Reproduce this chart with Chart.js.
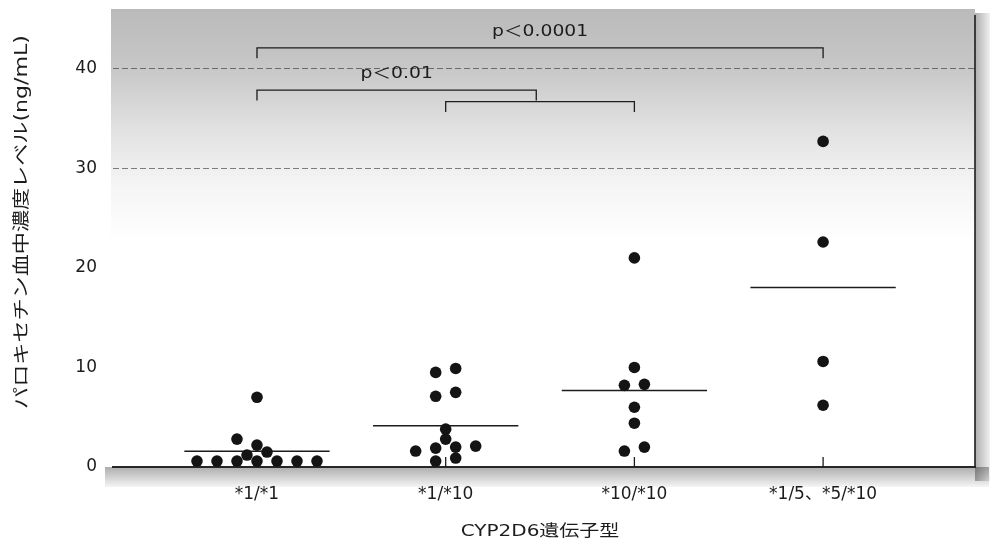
<!DOCTYPE html>
<html lang="ja">
<head>
<meta charset="UTF-8">
<title>CYP2D6遺伝子型とパロキセチン血中濃度</title>
<script src="https://cdn.jsdelivr.net/npm/chart.js@4.4.1/dist/chart.umd.min.js"></script>
<style>
    html, body {
        margin: 0;
        padding: 0;
        background: #ffffff;
    }
    .chart-box {
        position: relative;
        width: 997px;
        height: 545px;
    }
</style>
</head>
<body>
<div class="chart-box"><canvas id="plasmaChart" width="997" height="545"></canvas></div>

<script>
// genotype groups on the x axis
const genotypes = ['*1/*1', '*1/*10', '*10/*10', '*1/5、*5/*10'];

// plasma paroxetine level per patient (ng/mL)
const levels_1_1 = [0.6, 0.6, 0.6, 0.6, 0.6, 0.6, 0.6, 1.2, 1.5, 2.2, 2.8, 7.0];
const levels_1_10 = [0.6, 0.9, 1.6, 1.9, 2.0, 2.1, 2.8, 3.8, 7.1, 7.5, 9.5, 9.9];
const levels_10_10 = [1.6, 2.0, 4.4, 6.0, 8.2, 8.3, 10.0, 21.0];
const levels_5_10 = [6.2, 10.6, 22.6, 32.7];
const groupLevels = [levels_1_1, levels_1_10, levels_10_10, levels_5_10];

const yTicks = [0, 10, 20, 30, 40];

// significance brackets: group ends, bar height, label
const bracketFrom = [0, 0, 1];
const bracketTo = [3, 1.48, 2];
const bracketHeight = [42.1, 37.85, 36.7];
const bracketText = ['p＜0.0001', 'p＜0.01', ''];

const INK = '#1c1c1c';
const LATIN_CJK = "'DejaVu Sans', 'Noto Sans CJK JP', sans-serif";

const DODGE = 0.106;     // step between side-by-side dots, in x units
const ROW_TOL = 0.55;    // values this close sit in one row
const CLASH = 0.85;      // min vertical gap for dots in the same column
const MEAN_HALF = 0.385; // half width of the mean bar
const LEG = 1.05;        // bracket leg length

// simple dot-plot layout: near-equal values spread sideways, centred on the group
function dotPlot(values, center) {
    const sorted = [...values].sort((a, b) => a - b);
    const placed = [];
    let i = 0;
    while (i < sorted.length) {
        const row = [sorted[i]];
        let j = i + 1;
        while (j < sorted.length && sorted[j] - sorted[i] <= ROW_TOL) row.push(sorted[j++]);
        const slots = row.map((v, k) => k - (row.length - 1) / 2);
        const clashes = s => row.some((v, k) => placed.some(p =>
            Math.abs(p.slot - (slots[k] + s)) < 0.4 && Math.abs(p.y - v) < CLASH));
        let shift = 0;
        for (const s of [0, -1, 1, -2, 2]) {
            if (!clashes(s)) { shift = s; break; }
        }
        row.forEach((v, k) => placed.push({ slot: slots[k] + shift, y: v }));
        i = j;
    }
    return placed.map(p => ({ x: center + p.slot * DODGE, y: p.y }));
}

const groupMeans = groupLevels.map(v => v.reduce((s, x) => s + x, 0) / v.length);

const dotSets = groupLevels.map((vals, g) => ({
    label: genotypes[g],
    data: dotPlot(vals, g),
    pointRadius: 5.8,
    pointHoverRadius: 5.8,
    backgroundColor: '#141414',
    borderWidth: 0,
    order: 0
}));

const meanSets = groupMeans.map((m, g) => ({
    label: genotypes[g] + ' mean',
    data: [{ x: g - MEAN_HALF, y: m }, { x: g + MEAN_HALF, y: m }],
    showLine: true,
    pointRadius: 0,
    borderColor: INK,
    borderWidth: 1.5,
    order: 1
}));

const bracketSets = bracketFrom.map((a, k) => {
    const b = bracketTo[k], h = bracketHeight[k];
    return {
        label: 'bracket ' + k,
        data: [{ x: a, y: h - LEG }, { x: a, y: h }, { x: b, y: h }, { x: b, y: h - LEG }],
        showLine: true,
        pointRadius: 0,
        borderColor: INK,
        borderWidth: 1.3,
        borderJoinStyle: 'miter',
        order: 1
    };
});

// text drawn wider than the font's natural shape
function wideText(ctx, text, x, y, font, sx, vertical) {
    ctx.save();
    ctx.translate(x, y);
    if (vertical) ctx.rotate(-Math.PI / 2);
    ctx.scale(sx, 1);
    ctx.font = font;
    ctx.fillStyle = INK;
    ctx.textAlign = 'center';
    ctx.textBaseline = 'middle';
    ctx.fillText(text, 0, 0);
    ctx.restore();
}

// grey screen tone: fading band at the top, strips along the bottom and right
const toneBackground = {
    id: 'toneBackground',
    beforeDraw(chart) {
        const { ctx, chartArea: a } = chart;
        ctx.save();
        const top = ctx.createLinearGradient(0, a.top, 0, a.top + 235);
        top.addColorStop(0, 'rgba(0,0,0,0.27)');
        top.addColorStop(0.25, 'rgba(0,0,0,0.22)');
        top.addColorStop(0.5, 'rgba(0,0,0,0.12)');
        top.addColorStop(0.75, 'rgba(0,0,0,0.04)');
        top.addColorStop(1, 'rgba(0,0,0,0)');
        ctx.fillStyle = top;
        ctx.fillRect(a.left - 2, a.top, a.right - a.left + 2, 235);

        const bottom = ctx.createLinearGradient(0, a.bottom, 0, a.bottom + 20);
        bottom.addColorStop(0, 'rgba(0,0,0,0.32)');
        bottom.addColorStop(1, 'rgba(0,0,0,0.04)');
        ctx.fillStyle = bottom;
        ctx.fillRect(a.left - 8, a.bottom, a.right - a.left + 22, 20);

        const side = ctx.createLinearGradient(a.right, 0, a.right + 15, 0);
        side.addColorStop(0, 'rgba(0,0,0,0.32)');
        side.addColorStop(1, 'rgba(0,0,0,0.06)');
        ctx.fillStyle = side;
        ctx.fillRect(a.right, a.top + 4, 15, a.bottom - a.top + 10);
        ctx.restore();
    }
};

// inward category ticks and the right frame line
const frameMarks = {
    id: 'frameMarks',
    beforeDatasetsDraw(chart) {
        const { ctx, chartArea: a, scales: { x, y } } = chart;
        const y0 = y.getPixelForValue(0);
        ctx.save();
        ctx.strokeStyle = INK;
        ctx.lineWidth = 1.3;
        genotypes.forEach((g, i) => {
            const px = x.getPixelForValue(i);
            ctx.beginPath();
            ctx.moveTo(px, y0);
            ctx.lineTo(px, y0 - 10);
            ctx.stroke();
        });
        ctx.lineWidth = 1.6;
        ctx.beginPath();
        ctx.moveTo(a.right, a.top + 6);
        ctx.lineTo(a.right, a.bottom);
        ctx.stroke();
        ctx.restore();
    }
};

// p-value labels and the two axis titles
const labelsLayer = {
    id: 'labelsLayer',
    afterDraw(chart) {
        const { ctx, chartArea: a, scales: { x, y } } = chart;
        bracketText.forEach((t, k) => {
            if (!t) return;
            const cx = x.getPixelForValue((bracketFrom[k] + bracketTo[k]) / 2);
            const cy = y.getPixelForValue(bracketHeight[k] + 1.6);
            wideText(ctx, t, cx, cy, '15px ' + LATIN_CJK, 1.25, false);
        });
        wideText(ctx, 'パロキセチン血中濃度レベル(ng/mL)', 23, a.top + (a.bottom - a.top) * 0.465,
            '17px ' + LATIN_CJK, 1.3, true);
        wideText(ctx, 'CYP2D6遺伝子型', (a.left + a.right) / 2 - 4, 532,
            '16px ' + LATIN_CJK, 1.25, false);
    }
};

// fixed axis boxes, no extra room reserved for edge labels
function fixBox(w, h) {
    return scale => {
        if (w) scale.width = w;
        if (h) scale.height = h;
        scale.paddingTop = 0;
        scale.paddingBottom = 0;
        scale.paddingLeft = 0;
        scale.paddingRight = 0;
    };
}

new Chart(document.getElementById('plasmaChart'), {
    type: 'scatter',
    data: { datasets: [...dotSets, ...meanSets, ...bracketSets] },
    options: {
        responsive: false,
        animation: false,
        layout: { padding: { left: 73, right: 22, top: 9, bottom: 18 } },
        plugins: {
            legend: { display: false },
            tooltip: { enabled: false }
        },
        scales: {
            x: {
                type: 'linear',
                min: -0.763,
                max: 3.805,
                afterBuildTicks: scale => { scale.ticks = genotypes.map((g, i) => ({ value: i })); },
                afterFit: fixBox(0, 60),
                grid: { display: false, drawTicks: false },
                border: { display: true, color: '#262626', width: 2 },
                ticks: {
                    padding: 17,
                    color: INK,
                    font: { family: LATIN_CJK, size: 17 },
                    callback: v => genotypes[v] ?? ''
                }
            },
            y: {
                min: 0,
                max: 46,
                afterBuildTicks: scale => { scale.ticks = yTicks.map(v => ({ value: v })); },
                afterFit: fixBox(40, 0),
                grid: {
                    drawTicks: false,
                    lineWidth: 1,
                    color: c => c.tick && c.tick.value >= 30 ? 'rgba(30,30,30,0.55)' : 'rgba(0,0,0,0)'
                },
                border: { display: false, dash: [6, 3] },
                ticks: {
                    padding: 16,
                    color: INK,
                    font: { family: LATIN_CJK, size: 17 }
                }
            }
        }
    },
    plugins: [toneBackground, frameMarks, labelsLayer]
});
</script>
</body>
</html>
